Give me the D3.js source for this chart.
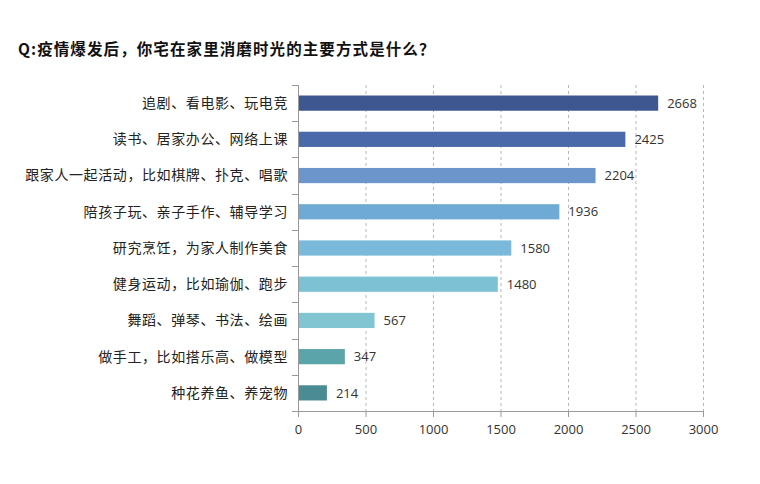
<!DOCTYPE html>
<html><head><meta charset="utf-8">
<script src="https://cdn.jsdelivr.net/npm/d3@7"></script>
<style>body{margin:0;background:#fff;} svg{display:block;}</style>
</head><body>
<script>
const title = "Q:疫情爆发后，你宅在家里消磨时光的主要方式是什么？";
const categories = ["追剧、看电影、玩电竞","读书、居家办公、网络上课","跟家人一起活动，比如棋牌、扑克、唱歌","陪孩子玩、亲子手作、辅导学习","研究烹饪，为家人制作美食","健身运动，比如瑜伽、跑步","舞蹈、弹琴、书法、绘画","做手工，比如搭乐高、做模型","种花养鱼、养宠物"];
const values = [2668,2425,2204,1936,1580,1480,567,347,214];
const barColors = ["#3e5791","#4a69ab","#6b95cb","#6eaad4","#7ab9d9","#7cc2d4","#80c5d1","#5ba4a9","#4a8b94"];
const xTicks = [0,500,1000,1500,2000,2500,3000];

const W=760,H=484;
const svg=d3.select("body").append("svg").attr("width",W).attr("height",H);
const mL=298,mR=703,mT=85,mB=411;
const x=d3.scaleLinear().domain([0,3000]).range([mL,mR]);
const y=d3.scaleBand().domain(categories).range([mT,mB]).paddingInner(0.58).paddingOuter(0.29);

svg.append("text").attr("x",18).attr("y",55).text(title)
  .attr("font-family","'Noto Sans CJK SC'").attr("font-size",15.5).attr("font-weight","bold").attr("fill","#111").attr("letter-spacing",1.1);

// gridlines
svg.append("g").selectAll("line").data(xTicks.slice(1)).join("line")
  .attr("x1",d=>x(d)+0.5).attr("x2",d=>x(d)+0.5).attr("y1",mT).attr("y2",mB)
  .attr("stroke","#b8b8b8").attr("stroke-dasharray","3,3").attr("stroke-width",1);

// bars
svg.append("g").selectAll("rect").data(values).join("rect")
  .attr("x",x(0)).attr("y",(d,i)=>y(categories[i])).attr("width",d=>x(d)-x(0)).attr("height",y.bandwidth())
  .attr("fill",(d,i)=>barColors[i]);

// value labels
svg.append("g").selectAll("text").data(values).join("text")
  .attr("x",d=>x(d)+9).attr("y",(d,i)=>y(categories[i])+y.bandwidth()/2).attr("dy","0.36em")
  .text(d=>d).attr("font-family","'Open Sans'").attr("font-size",13).attr("fill","#333");

// x axis
const xAxis=svg.append("g").attr("transform",`translate(0,${mB})`)
  .call(d3.axisBottom(x).tickValues(xTicks).tickSize(6).tickPadding(8).tickFormat(d3.format("d")));
xAxis.selectAll("path,line").attr("stroke","#999");
xAxis.select(".domain").attr("d",`M${mL},0.5H${mR}`);
xAxis.selectAll("text").attr("font-family","'Open Sans'").attr("font-size",13).attr("fill","#333");

// y axis
const yStep=(mB-mT)/categories.length;
const yAxisG=svg.append("g");
yAxisG.append("line").attr("x1",mL+0.5).attr("x2",mL+0.5).attr("y1",mT).attr("y2",mB).attr("stroke","#999");
yAxisG.selectAll("line.t").data(d3.range(categories.length+1)).join("line").attr("class","t")
  .attr("x1",mL-6).attr("x2",mL).attr("y1",i=>Math.round(mT+i*yStep)+0.5).attr("y2",i=>Math.round(mT+i*yStep)+0.5).attr("stroke","#999");
yAxisG.selectAll("text").data(categories).join("text")
  .attr("x",mL-10).attr("y",d=>y(d)+y.bandwidth()/2).attr("dy","0.35em").attr("text-anchor","end")
  .text(d=>d).attr("font-family","'Noto Sans CJK SC'").attr("font-size",14).attr("fill","#222").attr("letter-spacing",0.6);
</script>
</body></html>
